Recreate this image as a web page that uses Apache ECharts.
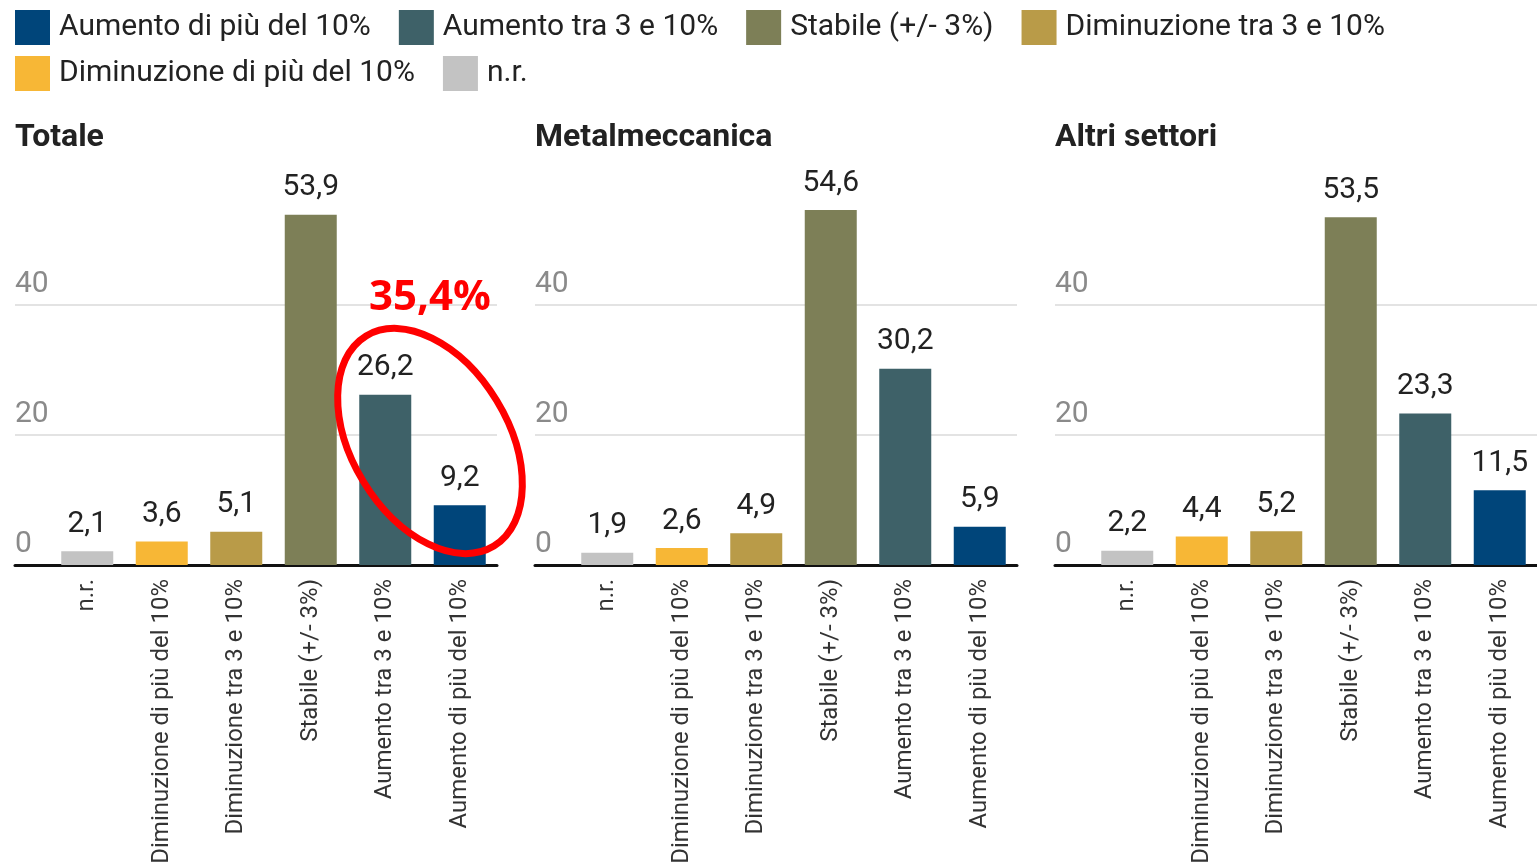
<!DOCTYPE html>
<html>
<head>
<meta charset="utf-8">
<script src="https://cdn.jsdelivr.net/npm/echarts@6/dist/echarts.min.js"></script>
<style>html,body{margin:0;padding:0;background:#fff;}#c{width:1537px;height:868px;}</style>
</head>
<body>
<div id="c"></div>
<script>
const categories = ['n.r.', 'Diminuzione di più del 10%', 'Diminuzione tra 3 e 10%', 'Stabile (+/- 3%)', 'Aumento tra 3 e 10%', 'Aumento di più del 10%'];
const panelTitles = ['Totale', 'Metalmeccanica', 'Altri settori'];
const totale = [2.1, 3.6, 5.1, 53.9, 26.2, 9.2];
const metalmeccanica = [1.9, 2.6, 4.9, 54.6, 30.2, 5.9];
const altriSettori = [2.2, 4.4, 5.2, 53.5, 23.3, 11.5];
const yTickValues = [0, 20, 40, 60];
const legendRow1 = ['Aumento di più del 10%', 'Aumento tra 3 e 10%', 'Stabile (+/- 3%)', 'Diminuzione tra 3 e 10%'];
const legendRow2 = ['Diminuzione di più del 10%', 'n.r.'];
const annotationText = '35,4%';
const colors = ['#c3c3c3', '#f7b736', '#b99b48', '#7d7f57', '#3e6168', '#00457a'];

const panels = [totale, metalmeccanica, altriSettori];
const FONT = 'Roboto';
const panelOffset = 520;
const gTop = 175, gHeight = 390;

const grid = [], xAxis = [], yAxis = [], series = [], title = [];
panels.forEach((vals, p) => {
  const off = p * panelOffset;
  grid.push({ left: 15 + off, width: 482, top: gTop, height: gHeight });
  grid.push({ left: 50 + off, width: 447, top: gTop, height: gHeight });
  const ga = 2 * p, gb = 2 * p + 1;
  xAxis.push({
    type: 'value', gridIndex: ga, min: 0, max: 1,
    axisLine: { show: true, onZero: false, lineStyle: { color: '#111', width: 3 } },
    axisTick: { show: false }, axisLabel: { show: false }, splitLine: { show: false }
  });
  xAxis.push({
    type: 'category', gridIndex: gb, data: categories,
    axisLine: { show: false }, axisTick: { show: false },
    axisLabel: { rotate: 90, interval: 0, margin: 14, fontFamily: FONT, fontSize: 24, color: '#333' }
  });
  yAxis.push({
    type: 'value', gridIndex: ga, min: yTickValues[0], max: yTickValues[yTickValues.length - 1], interval: 20,
    axisLine: { show: false }, axisTick: { show: false },
    axisLabel: {
      inside: true, margin: 0, showMaxLabel: false, align: 'left', verticalAlign: 'bottom',
      padding: [0, 0, 6, 0], fontFamily: FONT, fontSize: 30, color: '#8a8a8a'
    },
    splitLine: { show: true, lineStyle: { color: ['transparent', '#e3e3e3', '#e3e3e3', 'transparent'], width: 2 } }
  });
  yAxis.push({
    type: 'value', gridIndex: gb, min: yTickValues[0], max: yTickValues[yTickValues.length - 1], interval: 20,
    show: false
  });
  title.push({
    text: panelTitles[p], left: 15 + off, top: 122, padding: 0,
    textStyle: { fontFamily: FONT, fontSize: 32, fontWeight: 'bold', color: '#222' }
  });
  categories.forEach((cat, i) => {
    const data = categories.map((c, j) => (j === i ? vals[j] : '-'));
    series.push({
      name: cat, type: 'bar', xAxisIndex: 2 * p + 1, yAxisIndex: 2 * p + 1,
      stack: 'panel' + p, barWidth: 52, data: data,
      itemStyle: { color: colors[i] },
      label: {
        show: true, position: 'top', distance: 12, fontFamily: FONT, fontSize: 30, color: '#222',
        formatter: (prm) => String(prm.value).replace('.', ',')
      },
      emphasis: { disabled: true },
      animation: false
    });
  });
});

const legendCommon = {
  left: 15, itemWidth: 35, itemHeight: 35, itemGap: 28, icon: 'rect', padding: 0,
  textStyle: { fontFamily: FONT, fontSize: 30, color: '#222', padding: [0, 0, 0, 4] }
};

const option = {
  backgroundColor: '#fff',
  animation: false,
  title: title,
  legend: [
    Object.assign({ top: 10, data: legendRow1 }, legendCommon),
    Object.assign({ top: 56, data: legendRow2 }, legendCommon)
  ],
  grid: grid, xAxis: xAxis, yAxis: yAxis, series: series,
  graphic: [
    {
      type: 'ellipse', x: 430, y: 441, rotation: 31.3 * Math.PI / 180, z: 100,
      shape: { cx: 0, cy: 0, rx: 78, ry: 123 },
      style: { fill: 'none', stroke: '#ff0000', lineWidth: 7 }
    },
    {
      type: 'text', x: 430, y: 298, z: 100,
      style: { text: annotationText, fill: '#ff0000', font: 'bold 42px "Open Sans"', textAlign: 'center', textVerticalAlign: 'middle' }
    }
  ]
};

const chart = echarts.init(document.getElementById('c'), null, { renderer: 'canvas' });
chart.setOption(option);
</script>
</body>
</html>
